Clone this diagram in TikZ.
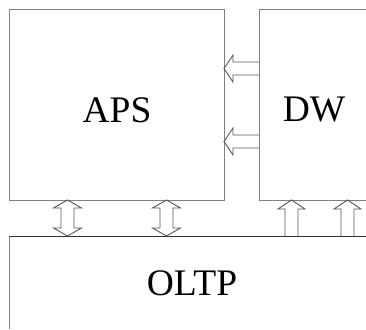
\documentclass[tikz,border=0pt]{standalone}
\usepackage{fontspec}
\setmainfont{Liberation Serif}
\begin{document}
\begin{tikzpicture}[x=1pt,y=-1pt,
  boxline/.style={draw=black!50, line width=1pt},
  arrowline/.style={draw=black!65, line width=0.9pt, line join=miter},
  lbl/.style={font=\fontsize{37.5}{42}\selectfont, inner sep=0pt}]
\useasboundingbox (0,0) rectangle (366,329);
\fill[white] (0,0) rectangle (366,329);
% boxes
\draw[boxline] (9,10) rectangle (224,200);
\draw[boxline] (366,10) -- (259,10) -- (259,200) -- (366,200);
\draw[boxline] (9,329) -- (9,236);
\draw[draw=black!80, line width=1pt] (9,236) -- (366,236);
% labels
\node[lbl] (aps) at (117,110) {APS};
\node[lbl] (dw) at (314,110) {DW};
\node[lbl] (oltp) at (192,283) {OLTP};
% left arrows DW -> APS
\foreach \c in {68.5,141.5}{
  \draw[arrowline] (259,\c-6.5) -- (233,\c-6.5) -- (233,\c-13.5) -- (224,\c) -- (233,\c+13.5) -- (233,\c+6.5) -- (259,\c+6.5);
}
% double arrows APS <-> OLTP
\foreach \c in {67.5,166.5}{
  \draw[arrowline] (\c,200) -- (\c+14,208) -- (\c+6.5,208) -- (\c+6.5,228) -- (\c+14,228) -- (\c,236) -- (\c-14,228) -- (\c-6.5,228) -- (\c-6.5,208) -- (\c-14,208) -- cycle;
}
% up arrows OLTP -> DW
\foreach \c in {291.5,347.5}{
  \draw[arrowline] (\c-6.5,236) -- (\c-6.5,209) -- (\c-13.5,209) -- (\c,200) -- (\c+13.5,209) -- (\c+6.5,209) -- (\c+6.5,236);
}
\end{tikzpicture}
\end{document}
